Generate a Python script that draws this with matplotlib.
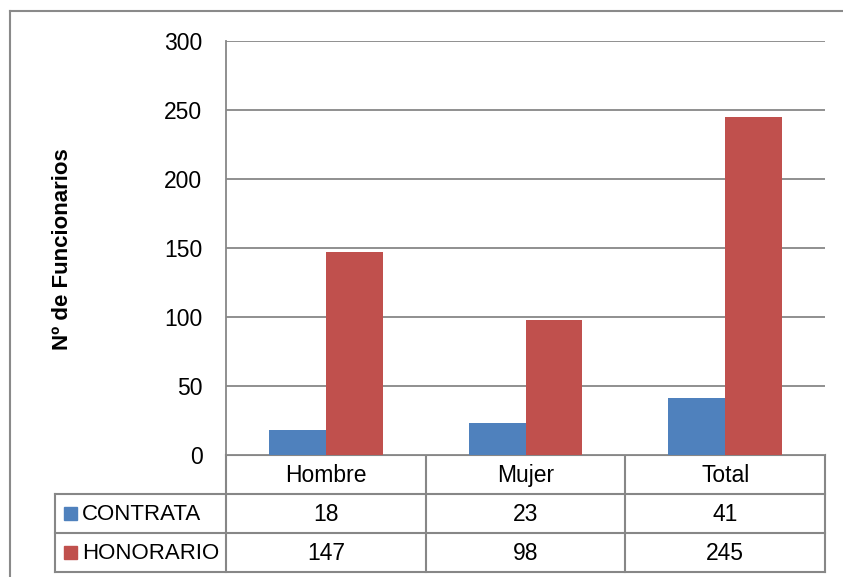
import matplotlib
matplotlib.use("Agg")
import matplotlib.pyplot as plt
from matplotlib.lines import Line2D
from matplotlib.patches import Rectangle
import matplotlib.transforms as mtransforms

categories = ["Hombre", "Mujer", "Total"]
series_names = ["CONTRATA", "HONORARIO"]
contrata = [18, 23, 41]
honorario = [147, 98, 245]
yticks = [0, 50, 100, 150, 200, 250, 300]
ylabel = "Nº de Funcionarios"

colors = ["#4F81BD", "#C0504D"]
grid_c = "#878787"
FONT = ["Liberation Sans", "DejaVu Sans"]
plt.rcParams["font.family"] = FONT

W, H = 843, 577
fig = plt.figure(figsize=(W / 100, H / 100), dpi=100)

# overlay axes in pixel coordinates for frame
ov = fig.add_axes([0, 0, 1, 1])
ov.set_xlim(0, W)
ov.set_ylim(H, 0)
ov.axis("off")
ov.add_line(Line2D([10, 10], [11, H], color="#8a8a8a", lw=1.5))
ov.add_line(Line2D([10, W], [11, 11], color="#8a8a8a", lw=1.5))

L, R, T, B = 226, 825, 41, 455
ax = fig.add_axes([L / W, (H - B) / H, (R - L) / W, (B - T) / H])
ax.set_xlim(-0.5, len(categories) - 0.5)
ax.set_ylim(0, 300)

x = list(range(len(categories)))
bw = 0.285
ax.bar([i - bw / 2 for i in x], contrata, width=bw, color=colors[0], zorder=3)
ax.bar([i + bw / 2 for i in x], honorario, width=bw, color=colors[1], zorder=3)

fs = 16.5
ax.set_yticks(yticks)
ax.set_yticklabels([str(t) for t in yticks], fontsize=fs)
ax.tick_params(axis="y", length=0, pad=17)
ax.set_xticks([])
ax.yaxis.grid(True, color=grid_c, lw=1.3, zorder=0)
for s in ["top", "right", "bottom"]:
    ax.spines[s].set_visible(False)
ax.spines["left"].set_color(grid_c)
ax.spines["left"].set_linewidth(1.3)

fig.text(62 / W, 1 - 249 / H, ylabel, rotation=90, ha="center", va="center",
         fontsize=16, fontweight="bold")

# data table
tr = mtransforms.blended_transform_factory(ax.transData, ov.transData)
row_h = 39
header_top = B
header_bot = B + row_h
rows_y = [header_bot, header_bot + row_h, header_bot + 2 * row_h]
tab_left = 55
lc = grid_c
lw = 1.5
ov.add_line(Line2D([L, R], [header_top, header_top], color=lc, lw=lw))
for yy in rows_y:
    ov.add_line(Line2D([tab_left, R], [yy, yy], color=lc, lw=lw))
ov.add_line(Line2D([tab_left, tab_left], [header_bot, rows_y[-1]], color=lc, lw=lw))
for b in [-0.5 + k for k in range(len(categories) + 1)]:
    ov.add_line(Line2D([b, b], [header_top, rows_y[-1]], color=lc, lw=lw, transform=tr))

for i, c in enumerate(categories):
    ov.text(i, (header_top + header_bot) / 2 + 1, c, transform=tr, ha="center", va="center", fontsize=fs)
for r, (name, vals) in enumerate(zip(series_names, [contrata, honorario])):
    yc = (rows_y[r] + rows_y[r + 1]) / 2 + 1
    ov.add_patch(Rectangle((64, yc - 7.5), 13, 13, color=colors[r]))
    ov.text(82, yc, name, ha="left", va="center", fontsize=16)
    for i, v in enumerate(vals):
        ov.text(i, yc, str(v), transform=tr, ha="center", va="center", fontsize=fs)

fig.savefig("out.png", dpi=100)
